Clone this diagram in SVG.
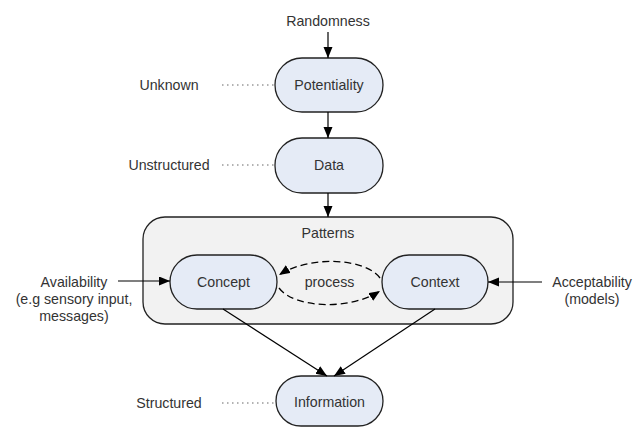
<svg xmlns="http://www.w3.org/2000/svg" width="637" height="427" viewBox="0 0 637 427">
<defs>
<marker id="ah" markerUnits="userSpaceOnUse" markerWidth="12" markerHeight="10" refX="11" refY="4.5" orient="auto">
<path d="M0,0 L11,4.5 L0,9 Z" fill="#000"/>
</marker>
<style>
text{font-family:"Liberation Sans",Arial,sans-serif;font-size:14.2px;fill:#333;text-anchor:middle}
.node{fill:#e5ebf6;stroke:#222;stroke-width:1.3}
.cont{fill:#f2f2f2;stroke:#222;stroke-width:1.3}
.arr{stroke:#000;stroke-width:1.2;fill:none;marker-end:url(#ah)}
.dash{stroke:#000;stroke-width:1.3;fill:none;stroke-dasharray:7,4;marker-end:url(#ah)}
.dot{stroke:#666;stroke-width:1;stroke-dasharray:1.5,3.5;fill:none}
</style>
</defs>
<rect width="637" height="427" fill="#fff"/>
<g id="patterns">
<rect class="cont" x="143" y="217" width="370" height="107" rx="22"/>
<text x="328" y="238">Patterns</text>
</g>
<g id="potentiality">
<rect class="node" x="275" y="58" width="108" height="54" rx="27"/>
<text x="329" y="90">Potentiality</text>
</g>
<g id="data">
<rect class="node" x="275" y="138" width="108" height="55" rx="27"/>
<text x="329" y="170">Data</text>
</g>
<g id="concept">
<rect class="node" x="170" y="255" width="107" height="54" rx="27"/>
<text x="223.5" y="287">Concept</text>
</g>
<g id="context">
<rect class="node" x="382" y="255" width="106" height="54" rx="27"/>
<text x="435" y="287">Context</text>
</g>
<g id="information">
<rect class="node" x="276" y="376" width="107" height="50" rx="25"/>
<text x="329.5" y="407">Information</text>
</g>
<g id="labels">
<text x="328" y="26">Randomness</text>
<text x="169" y="90">Unknown</text>
<text x="169" y="170">Unstructured</text>
<text x="169" y="408">Structured</text>
<text x="74" y="287">Availability</text>
<text x="74" y="304">(e.g sensory input,</text>
<text x="74" y="321">messages)</text>
<text x="592" y="287">Acceptability</text>
<text x="592" y="304">(models)</text>
<text x="329.5" y="287">process</text>
</g>
<g id="connectors">
<line class="arr" x1="328" y1="32" x2="328" y2="58"/>
<line class="arr" x1="328" y1="112" x2="328" y2="138"/>
<line class="arr" x1="328" y1="193" x2="328" y2="217"/>
<line class="arr" x1="118" y1="281" x2="170" y2="281"/>
<line class="arr" x1="542" y1="282" x2="488" y2="282"/>
<line class="arr" x1="223" y1="309" x2="327" y2="376"/>
<line class="arr" x1="435" y1="309" x2="334" y2="376"/>
<path class="dash" d="M380,278 C365,258 310,255 279,275"/>
<path class="dash" d="M279,288 C294,308 349,311 380,291"/>
<line class="dot" x1="222" y1="85" x2="275" y2="85"/>
<line class="dot" x1="222" y1="165" x2="275" y2="165"/>
<line class="dot" x1="222" y1="403" x2="276" y2="403"/>
</g>
</svg>
